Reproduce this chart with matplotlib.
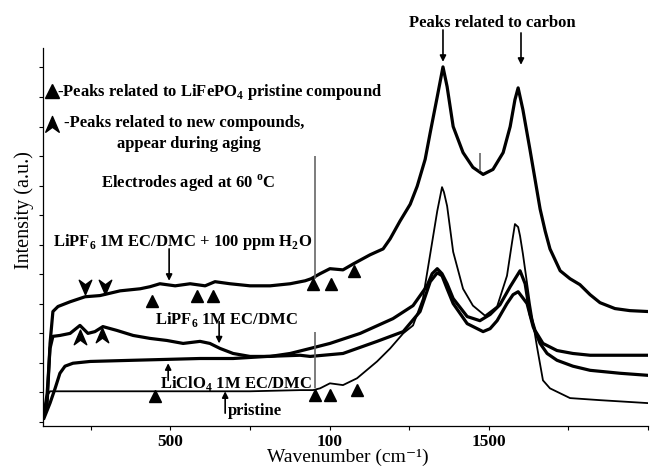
import matplotlib
matplotlib.use("Agg")
import matplotlib.pyplot as plt
from matplotlib.path import Path

plt.rcParams['font.family'] = ['Liberation Serif', 'DejaVu Serif']
plt.rcParams['mathtext.fontset'] = 'custom'
plt.rcParams['mathtext.rm'] = 'Liberation Serif'
plt.rcParams['mathtext.bf'] = 'Liberation Serif:bold'

# spectra (wavenumber in cm-1, intensity in arbitrary units)
h2o_x = [103, 113, 122, 131, 147, 185, 232, 279, 342, 405, 436, 467, 515, 562, 609,
         640, 687, 750, 813, 876, 923, 942, 970, 1001, 1042, 1074, 1127, 1168, 1190, 1221,
         1253, 1275, 1300, 1316, 1338, 1356, 1369, 1388, 1419, 1450, 1482, 1513, 1545, 1567, 1582,
         1592, 1607, 1629, 1645, 1661, 1677, 1692, 1724, 1755, 1786, 1818, 1849, 1896, 1943, 2000]
h2o_y = [0.30, 0.64, 2.66, 3.74, 3.91, 4.07, 4.24, 4.28, 4.44, 4.51, 4.58, 4.68, 4.61, 4.68, 4.61,
         4.75, 4.68, 4.61, 4.61, 4.68, 4.78, 4.85, 5.02, 5.19, 5.15, 5.35, 5.66, 5.86, 6.20, 6.80,
         7.37, 7.98, 8.89, 9.80, 11.01, 12.02, 11.35, 10.0, 9.12, 8.62, 8.38, 8.55, 9.12, 10.0, 10.91,
         11.31, 10.57, 9.23, 8.22, 7.21, 6.46, 5.86, 5.12, 4.85, 4.65, 4.31, 4.04, 3.84, 3.77, 3.74]

lipf6_x = [103, 113, 122, 131, 153, 185, 216, 241, 263, 288, 332, 383, 436, 489, 540,
           593, 624, 656, 697, 750, 813, 876, 939, 1001, 1096, 1199, 1262, 1306, 1322, 1338,
           1353, 1369, 1388, 1432, 1472, 1504, 1535, 1567, 1598, 1614, 1629, 1645, 1670, 1714, 1764,
           1818, 1912, 2000]
lipf6_y = [0.20, 0.98, 2.49, 2.90, 2.93, 3.00, 3.27, 3.00, 3.06, 3.23, 3.10, 2.93, 2.83, 2.76, 2.66,
           2.73, 2.66, 2.49, 2.32, 2.22, 2.22, 2.32, 2.49, 2.66, 3.00, 3.50, 3.94, 4.61, 5.02, 5.19,
           5.02, 4.68, 4.18, 3.57, 3.43, 3.64, 3.97, 4.58, 5.12, 4.68, 3.67, 3.10, 2.66, 2.42, 2.32,
           2.26, 2.26, 2.26]

liclo4_x = [103, 122, 138, 153, 169, 194, 248, 383, 489, 593, 697, 803, 907, 939, 1042,
            1149, 1231, 1284, 1316, 1338, 1353, 1369, 1388, 1432, 1482, 1504, 1526, 1557, 1576, 1592,
            1604, 1620, 1639, 1661, 1683, 1714, 1764, 1818, 1912, 2000]
liclo4_y = [0.13, 0.64, 1.14, 1.65, 1.89, 1.99, 2.05, 2.09, 2.12, 2.15, 2.15, 2.22, 2.26, 2.22, 2.32,
            2.73, 3.06, 3.74, 4.75, 5.05, 4.95, 4.51, 4.01, 3.33, 3.06, 3.16, 3.43, 4.01, 4.31, 4.41,
            4.24, 4.01, 3.23, 2.66, 2.32, 2.09, 1.89, 1.75, 1.65, 1.58]

pristine_x = [103, 113, 122, 279, 452, 593, 750, 907, 948, 970, 1001, 1042, 1086, 1149, 1190,
              1231, 1262, 1293, 1316, 1338, 1353, 1359, 1369, 1388, 1419, 1450, 1488, 1526, 1557, 1573,
              1582, 1592, 1598, 1607, 1629, 1651, 1670, 1692, 1755, 1849, 2000]
pristine_y = [0.40, 0.88, 1.04, 1.04, 1.04, 1.04, 1.04, 1.08, 1.08, 1.14, 1.31, 1.25, 1.48, 2.05, 2.49,
              3.00, 3.27, 4.18, 5.69, 7.14, 7.95, 7.78, 7.31, 5.76, 4.51, 3.94, 3.60, 3.91, 4.95, 6.09,
              6.70, 6.60, 6.30, 5.69, 4.01, 2.56, 1.41, 1.14, 0.81, 0.74, 0.64]

# narrow spikes
spike_x = [954, 954, 1472]
spike_lo = [4.85, 1.14, 8.48]
spike_hi = [8.99, 3.06, 9.09]

# LiFePO4 peaks (filled triangles)
tri_h2o_x = [442, 584, 634, 948, 1004, 1077]
tri_h2o_y = [4.11, 4.28, 4.28, 4.68, 4.68, 5.12]
tri_pr_x = [452, 954, 1001, 1086]
tri_pr_y = [0.88, 0.91, 0.91, 1.08]

# new compound peaks (chevrons)
chev_dn_x = [232, 295]
chev_dn_y = [4.61, 4.61]
chev_up_x = [216, 285]
chev_up_y = [2.83, 2.90]

xtick_pos = [250, 500, 750, 1000, 1250, 1500, 1750, 2000]
xtick_lab = ['', '500', '', '100', '', '1500', '', '']

chev_up = Path([(0, 1), (0.75, -0.75), (0, -0.2), (-0.75, -0.75), (0, 1)],
               [Path.MOVETO, Path.LINETO, Path.LINETO, Path.LINETO, Path.CLOSEPOLY])
chev_dn = Path([(0, -1), (0.75, 0.75), (0, 0.2), (-0.75, 0.75), (0, -1)],
               [Path.MOVETO, Path.LINETO, Path.LINETO, Path.LINETO, Path.CLOSEPOLY])

fig = plt.figure(figsize=(6.5, 4.7), dpi=100)
ax = fig.add_axes([0.0662, 0.0936, 0.9308, 0.8043])

ax.plot(h2o_x, h2o_y, color='black', lw=2.3, zorder=3)
ax.plot(lipf6_x, lipf6_y, color='black', lw=2.3, zorder=3)
ax.plot(liclo4_x, liclo4_y, color='black', lw=2.3, zorder=3)
ax.plot(pristine_x, pristine_y, color='black', lw=1.3, zorder=3)
ax.vlines(spike_x, spike_lo, spike_hi, color='0.4', lw=1.2, zorder=3)

ax.plot(tri_h2o_x, tri_h2o_y, '^', color='black', ms=9, ls='none', zorder=4)
ax.plot(tri_pr_x, tri_pr_y, '^', color='black', ms=9, ls='none', zorder=4)
ax.plot(chev_dn_x, chev_dn_y, marker=chev_dn, color='black', ms=12, ls='none', zorder=4)
ax.plot(chev_up_x, chev_up_y, marker=chev_up, color='black', ms=12, ls='none', zorder=4)

# key
fs = 12
ax.plot([128], [11.21], '^', color='black', ms=10, clip_on=False)
ax.text(144, 11.04, r'-Peaks related to LiFePO$_{\mathbf{4}}$ pristine compound',
        fontsize=fs, fontweight='bold')
ax.plot([128], [10.07], marker=chev_up, color='black', ms=13, clip_on=False)
ax.text(166, 9.97, '-Peaks related to new compounds,', fontsize=fs, fontweight='bold')
ax.text(558, 9.29, 'appear during aging', fontsize=fs, fontweight='bold', ha='center')
ax.text(556, 7.95, r'Electrodes aged at 60 $^{\mathbf{o}}$C', fontsize=fs, fontweight='bold',
        ha='center')

ax.text(131, 5.96, r'LiPF$_{\mathbf{6}}$ 1M EC/DMC + 100 ppm H$_{\mathbf{2}}$O', fontsize=fs,
        fontweight='bold')
ax.text(452, 3.33, r'LiPF$_{\mathbf{6}}$ 1M EC/DMC', fontsize=fs, fontweight='bold')
ax.text(467, 1.14, r'LiClO$_{\mathbf{4}}$ 1M EC/DMC', fontsize=fs, fontweight='bold', zorder=1)
ax.text(681, 0.24, 'pristine', fontsize=fs, fontweight='bold')
ax.text(1510, 13.37, 'Peaks related to carbon', fontsize=fs, fontweight='bold', ha='center')

arrow = dict(arrowstyle='-|>', color='black', lw=1.2, mutation_scale=9, shrinkA=0, shrinkB=0)
for x0, y0, y1 in [(496, 5.86, 4.78), (653, 3.40, 2.66), (493, 1.41, 1.99),
                   (672, 0.30, 1.04), (1356, 13.27, 12.19), (1601, 13.17, 12.09)]:
    ax.annotate('', xy=(x0, y1), xytext=(x0, y0), arrowprops=arrow, annotation_clip=False)

ax.set_xlim(100, 2000)
ax.set_ylim(-0.135, 12.66)
ax.set_xticks(xtick_pos)
ax.set_xticklabels(xtick_lab, fontsize=12.5, fontweight='bold')
ax.set_yticks(range(13))
ax.set_yticklabels([])
ax.tick_params(direction='out', length=3, width=0.8, pad=2.5)
for s in ['top', 'right']:
    ax.spines[s].set_visible(False)
for s in ['left', 'bottom']:
    ax.spines[s].set_linewidth(0.9)

ax.set_xlabel('Wavenumber (cm\u207b\u00b9)', fontsize=14)
ax.set_ylabel('Intensity (a.u.)', fontsize=14.5)
ax.xaxis.set_label_coords(0.504, -0.06)
ax.yaxis.set_label_coords(-0.015, 0.57)

fig.savefig('out.png', dpi=100)
